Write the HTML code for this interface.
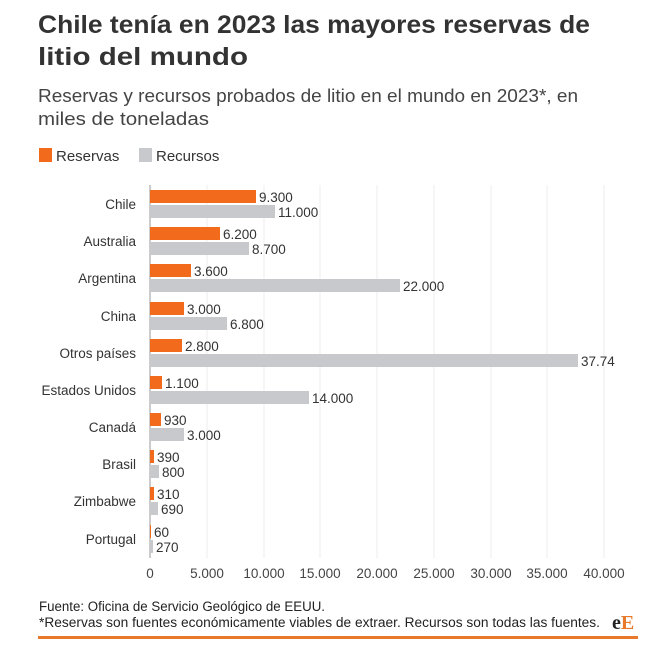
<!DOCTYPE html>
<html><head><meta charset="utf-8"><style>
body{margin:0;background:#fff;width:655px;height:654px;overflow:hidden;font-family:"Liberation Sans",sans-serif}
</style></head><body>
<svg width="655" height="654" xmlns="http://www.w3.org/2000/svg" font-family="Liberation Sans, sans-serif">
<text x="38" y="33" font-size="25" font-weight="bold" fill="#333" textLength="552" lengthAdjust="spacingAndGlyphs">Chile tenía en 2023 las mayores reservas de</text>
<text x="38" y="65" font-size="25" font-weight="bold" fill="#333" textLength="210" lengthAdjust="spacingAndGlyphs">litio del mundo</text>
<text x="38" y="102" font-size="18" fill="#444" textLength="540" lengthAdjust="spacingAndGlyphs">Reservas y recursos probados de litio en el mundo en 2023*, en</text>
<text x="38" y="125" font-size="18" fill="#444" textLength="171" lengthAdjust="spacingAndGlyphs">miles de toneladas</text>
<rect x="39" y="148" width="13" height="14" fill="#f26b1d"/>
<text x="56" y="161" font-size="15" fill="#333">Reservas</text>
<rect x="139" y="148" width="13" height="14" fill="#c8c9cd"/>
<text x="156" y="161" font-size="15" fill="#333">Recursos</text>
<g stroke="#ececec" stroke-width="1">
<line x1="207" y1="185" x2="207" y2="558"/><line x1="264" y1="185" x2="264" y2="558"/><line x1="320" y1="185" x2="320" y2="558"/><line x1="377" y1="185" x2="377" y2="558"/><line x1="434" y1="185" x2="434" y2="558"/><line x1="491" y1="185" x2="491" y2="558"/><line x1="547" y1="185" x2="547" y2="558"/><line x1="604" y1="185" x2="604" y2="558"/>
</g>
<line x1="150" y1="185" x2="150" y2="558" stroke="#999" stroke-width="1"/>
<g font-size="13.5" fill="#333" text-anchor="end">
<text x="136" y="209">Chile</text><text x="136" y="246">Australia</text><text x="136" y="283">Argentina</text><text x="136" y="321">China</text><text x="136" y="358">Otros países</text><text x="136" y="395">Estados Unidos</text><text x="136" y="432">Canadá</text><text x="136" y="469">Brasil</text><text x="136" y="506">Zimbabwe</text><text x="136" y="544">Portugal</text>
</g>
<g fill="#f26b1d">
<rect x="150" y="190" width="106" height="13"/><rect x="150" y="227" width="70" height="13"/><rect x="150" y="264" width="41" height="13"/><rect x="150" y="302" width="34" height="13"/><rect x="150" y="339" width="32" height="13"/><rect x="150" y="376" width="12" height="13"/><rect x="150" y="413" width="11" height="13"/><rect x="150" y="450" width="4" height="13"/><rect x="150" y="487" width="4" height="13"/><rect x="150" y="525" width="1" height="13"/>
</g>
<g fill="#c8c9cd">
<rect x="150" y="205" width="125" height="13"/><rect x="150" y="242" width="99" height="13"/><rect x="150" y="279" width="250" height="13"/><rect x="150" y="317" width="77" height="13"/><rect x="150" y="354" width="428" height="13"/><rect x="150" y="391" width="159" height="13"/><rect x="150" y="428" width="34" height="13"/><rect x="150" y="465" width="9" height="13"/><rect x="150" y="502" width="8" height="13"/><rect x="150" y="540" width="3" height="13"/>
</g>
<g font-size="13.5" fill="#333">
<text x="259" y="202">9.300</text><text x="278" y="217">11.000</text>
<text x="223" y="239">6.200</text><text x="252" y="254">8.700</text>
<text x="194" y="276">3.600</text><text x="403" y="291">22.000</text>
<text x="187" y="314">3.000</text><text x="230" y="329">6.800</text>
<text x="185" y="351">2.800</text><text x="581" y="366">37.74</text>
<text x="165" y="388">1.100</text><text x="312" y="403">14.000</text>
<text x="164" y="425">930</text><text x="187" y="440">3.000</text>
<text x="157" y="462">390</text><text x="162" y="477">800</text>
<text x="157" y="499">310</text><text x="161" y="514">690</text>
<text x="154" y="537">60</text><text x="156" y="552">270</text>
</g>
<g font-size="13.5" fill="#444" text-anchor="middle">
<text x="150" y="578">0</text><text x="207" y="578">5.000</text><text x="264" y="578">10.000</text><text x="320" y="578">15.000</text><text x="377" y="578">20.000</text><text x="434" y="578">25.000</text><text x="491" y="578">30.000</text><text x="547" y="578">35.000</text><text x="604" y="578">40.000</text>
</g>
<text x="39" y="611" font-size="13.5" fill="#222" textLength="286" lengthAdjust="spacingAndGlyphs">Fuente: Oficina de Servicio Geológico de EEUU.</text>
<text x="39" y="627" font-size="13.5" fill="#222" textLength="561" lengthAdjust="spacingAndGlyphs">*Reservas son fuentes económicamente viables de extraer. Recursos son todas las fuentes.</text>
<text x="612" y="629" font-size="20" font-weight="bold" font-family="Liberation Serif, serif" fill="#222">e<tspan fill="#e8782a">E</tspan></text>
<rect x="38" y="636" width="600" height="3" fill="#e8782a"/>
</svg>
</body></html>
